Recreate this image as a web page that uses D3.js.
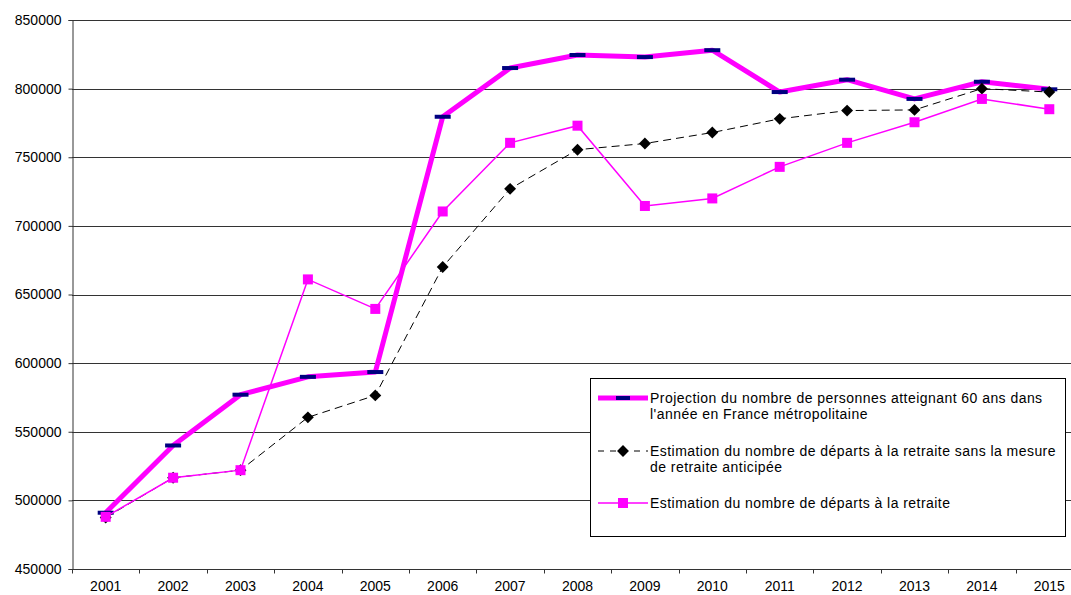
<!DOCTYPE html>
<html>
<head>
<meta charset="utf-8">
<script src="https://cdn.jsdelivr.net/npm/d3@7"></script>
<style>
  body { margin: 0; background: #fff; }
  svg { display: block; font-family: "Liberation Sans", Arial, sans-serif; }
</style>
</head>
<body>
<svg id="chart" width="1071" height="595"></svg>
<script>
const years = ["2001", "2002", "2003", "2004", "2005", "2006", "2007", "2008", "2009", "2010", "2011", "2012", "2013", "2014", "2015"];
const projection60 = [491000, 540000, 577000, 590000, 593500, 779500, 815000, 824500, 823000, 828000, 797500, 806500, 792500, 805000, 799500];
const departsSansMesure = [487500, 516500, 522000, 560500, 576500, 670000, 727000, 755500, 760000, 768000, 778000, 784000, 784500, 800000, 797500];
const departs = [488000, 516500, 522000, 661000, 639500, 710500, 760500, 773000, 714500, 720000, 743000, 760500, 775500, 792500, 785000];
const yTicks = [450000, 500000, 550000, 600000, 650000, 700000, 750000, 800000, 850000];
const legendLabels = [
  ["Projection du nombre de personnes atteignant 60 ans dans", "l'année en France métropolitaine"],
  ["Estimation du nombre de départs à la retraite sans la mesure", "de retraite anticipée"],
  ["Estimation du nombre de départs à la retraite"]
];

const svg = d3.select("#chart");
const plotLeft = 72, plotRight = 1083, plotTop = 20, plotBottom = 569;

const x = d3.scaleBand().domain(years).range([plotLeft, plotRight]);
const y = d3.scaleLinear().domain([450000, 850000]).range([plotBottom, plotTop]);
const cx = d => x(d) + x.bandwidth() / 2;

// gridlines
svg.append("g")
  .selectAll("line")
  .data(yTicks.filter(t => t > 450000))
  .join("line")
  .attr("x1", plotLeft).attr("x2", plotRight)
  .attr("y1", d => Math.round(y(d)) + 0.5).attr("y2", d => Math.round(y(d)) + 0.5)
  .attr("stroke", "#333").attr("stroke-width", 1);

// y axis
const yAxis = svg.append("g")
  .attr("transform", `translate(${plotLeft + 0.5},0)`)
  .call(d3.axisLeft(y).tickValues(yTicks).tickFormat(d3.format("d")).tickSize(4).tickPadding(7));
yAxis.select(".domain").attr("stroke", "#333");
yAxis.selectAll(".tick line").attr("stroke", "#333");
yAxis.selectAll("text").attr("font-size", 14).attr("fill", "#000")
  .attr("font-family", "Liberation Sans, Arial, sans-serif");

// x axis
const xg = svg.append("g").attr("transform", `translate(0,${Math.round(plotBottom) + 0.5})`);
xg.append("line").attr("x1", plotLeft).attr("x2", plotRight).attr("y1", 0).attr("y2", 0)
  .attr("stroke", "#333");
xg.selectAll("line.tk")
  .data(years)
  .join("line")
  .attr("class", "tk")
  .attr("x1", d => Math.round(x(d)) + 0.5).attr("x2", d => Math.round(x(d)) + 0.5)
  .attr("y1", 0).attr("y2", 4)
  .attr("stroke", "#333");
xg.selectAll("text")
  .data(years)
  .join("text")
  .attr("x", d => cx(d))
  .attr("y", 21)
  .attr("text-anchor", "middle")
  .attr("font-size", 14)
  .text(d => d);

// series 1: projection
const line = d3.line().x((d, i) => cx(years[i])).y(d => y(d));
svg.append("path").datum(projection60)
  .attr("d", line).attr("fill", "none")
  .attr("stroke", "#ff00ff").attr("stroke-width", 5).attr("stroke-linejoin", "round");
svg.append("g").selectAll("rect")
  .data(projection60)
  .join("rect")
  .attr("x", (d, i) => cx(years[i]) - 8)
  .attr("y", d => y(d) - 2)
  .attr("width", 16).attr("height", 4)
  .attr("fill", "#000080");

// series 2: sans mesure
svg.append("path").datum(departsSansMesure)
  .attr("d", line).attr("fill", "none")
  .attr("stroke", "#000").attr("stroke-width", 1).attr("stroke-dasharray", "8,5");
const diamond = d3.symbol().type(d3.symbolDiamond2).size(90);
svg.append("g").selectAll("path")
  .data(departsSansMesure)
  .join("path")
  .attr("d", diamond)
  .attr("transform", (d, i) => `translate(${cx(years[i])},${y(d)})`)
  .attr("fill", "#000");

// series 3: departs
svg.append("path").datum(departs)
  .attr("d", line).attr("fill", "none")
  .attr("stroke", "#ff00ff").attr("stroke-width", 1.5);
svg.append("g").selectAll("rect")
  .data(departs)
  .join("rect")
  .attr("x", (d, i) => cx(years[i]) - 5)
  .attr("y", d => y(d) - 5)
  .attr("width", 10).attr("height", 10)
  .attr("fill", "#ff00ff");

// legend
const lg = svg.append("g");
lg.append("rect")
  .attr("x", 590.5).attr("y", 378.5).attr("width", 475).attr("height", 158)
  .attr("fill", "#fff").attr("stroke", "#000").attr("stroke-width", 1);
const rowY = [398, 451, 503];
legendLabels.forEach((lines, i) => {
  const yy = rowY[i];
  lines.forEach((t, j) => {
    lg.append("text")
      .attr("x", 650).attr("y", yy + 5 + j * 16)
      .attr("font-size", 14)
      .attr("letter-spacing", 0.45)
      .text(t);
  });
});
// legend samples
lg.append("line").attr("x1", 598).attr("x2", 648).attr("y1", rowY[0]).attr("y2", rowY[0])
  .attr("stroke", "#ff00ff").attr("stroke-width", 5);
lg.append("rect").attr("x", 616).attr("y", rowY[0] - 2).attr("width", 14).attr("height", 4).attr("fill", "#000080");
lg.append("line").attr("x1", 598).attr("x2", 648).attr("y1", rowY[1]).attr("y2", rowY[1])
  .attr("stroke", "#000").attr("stroke-width", 1).attr("stroke-dasharray", "6,6");
lg.append("path").attr("d", diamond).attr("transform", `translate(623,${rowY[1]})`).attr("fill", "#000");
lg.append("line").attr("x1", 598).attr("x2", 648).attr("y1", rowY[2]).attr("y2", rowY[2])
  .attr("stroke", "#ff00ff").attr("stroke-width", 1.5);
lg.append("rect").attr("x", 618).attr("y", rowY[2] - 5).attr("width", 10).attr("height", 10).attr("fill", "#ff00ff");
</script>
</body>
</html>
